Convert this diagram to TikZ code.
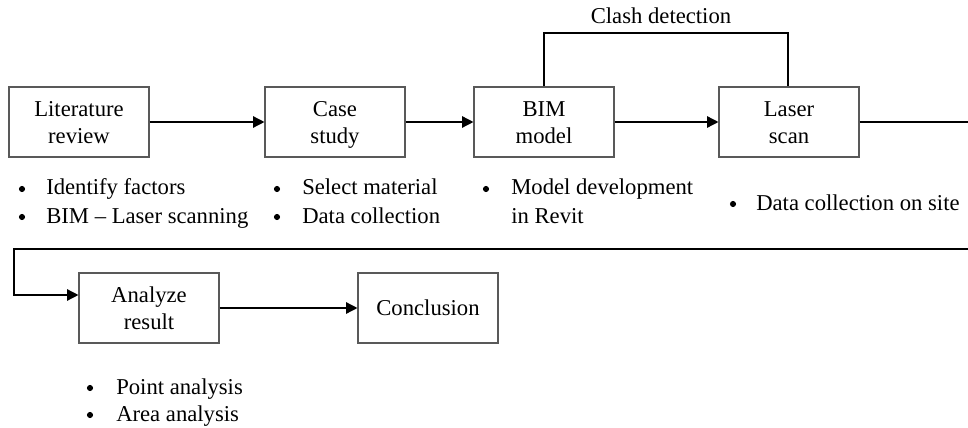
\documentclass[tikz,border=0pt]{standalone}
\usepackage{fontspec}
\setmainfont{Liberation Serif}
\usetikzlibrary{arrows.meta}
\newcommand\toprule{\rule{0pt}{18.7pt}}
\begin{document}
\begin{tikzpicture}[x=0.75pt,y=-0.75pt,
  font=\fontsize{17}{20.25}\selectfont,
  stepbox/.style={draw=black!65,line width=0.8pt,minimum width=105pt,minimum height=52.5pt,inner sep=0pt,align=center},
  conn/.style={line width=1.05pt},
  arr/.style={conn,-{Triangle[length=8.5pt,width=8.5pt]}},
  itemtext/.style={anchor=base west,inner sep=0pt},
  lbl/.style={anchor=base,inner sep=0pt},
  bul/.style={circle,fill=black,inner sep=0pt,minimum size=4.6pt}]
\useasboundingbox (0,0) rectangle (968,428);
% boxes
\node[stepbox] (lit) at (79,122) {\toprule Literature\\\strut review};
\node[stepbox] (case) at (335,122) {\toprule Case\\\strut study};
\node[stepbox] (bim) at (544,122) {\toprule BIM\\\strut model};
\node[stepbox] (laser) at (789,122) {\toprule Laser\\\strut scan};
\node[stepbox] (ana) at (149,308) {\toprule Analyze\\\strut result};
\node[stepbox] (conc) at (428,308) {Conclusion};
% connectors
\draw[arr] (lit) -- (case);
\draw[arr] (case) -- (bim);
\draw[arr] (bim) -- (laser);
\coordinate (c1) at (544,33);
\coordinate (c2) at (788,33);
\draw[conn] (c1 |- bim.north) -- (c1) -- (c2) -- (c2 |- laser.north);
\node[lbl] (clash) at (661,24) {Clash detection};
\coordinate (e1) at (968,122);
\draw[conn] (laser.east) -- (e1);
\coordinate (r1) at (968,249);
\coordinate (r2) at (14,249);
\coordinate (r3) at (14,295);
\draw[arr] (r1) -- (r2) -- (r3) -- (r3 -| ana.west);
\draw[arr] (ana) -- (conc);
% bullet lists
\node[bul] (b11) at (22,189) {};
\node[itemtext] (t11) at (46,195) {Identify factors};
\node[bul] (b12) at (22,217) {};
\node[itemtext] (t12) at (46,223) {BIM – Laser scanning};
\node[bul] (b21) at (277,189) {};
\node[itemtext] (t21) at (302,195) {Select material};
\node[bul] (b22) at (277,217) {};
\node[itemtext] (t22) at (302,223) {Data collection};
\node[bul] (b31) at (486,189) {};
\node[itemtext] (t31) at (511,195) {Model development};
\node[itemtext] (t32) at (511,223) {in Revit};
\node[bul] (b41) at (733,204) {};
\node[itemtext] (t41) at (756,210) {Data collection on site};
\node[bul] (b51) at (90,388) {};
\node[itemtext] (t51) at (116,394) {Point analysis};
\node[bul] (b52) at (90,415) {};
\node[itemtext] (t52) at (116,421) {Area analysis};
\end{tikzpicture}
\end{document}
